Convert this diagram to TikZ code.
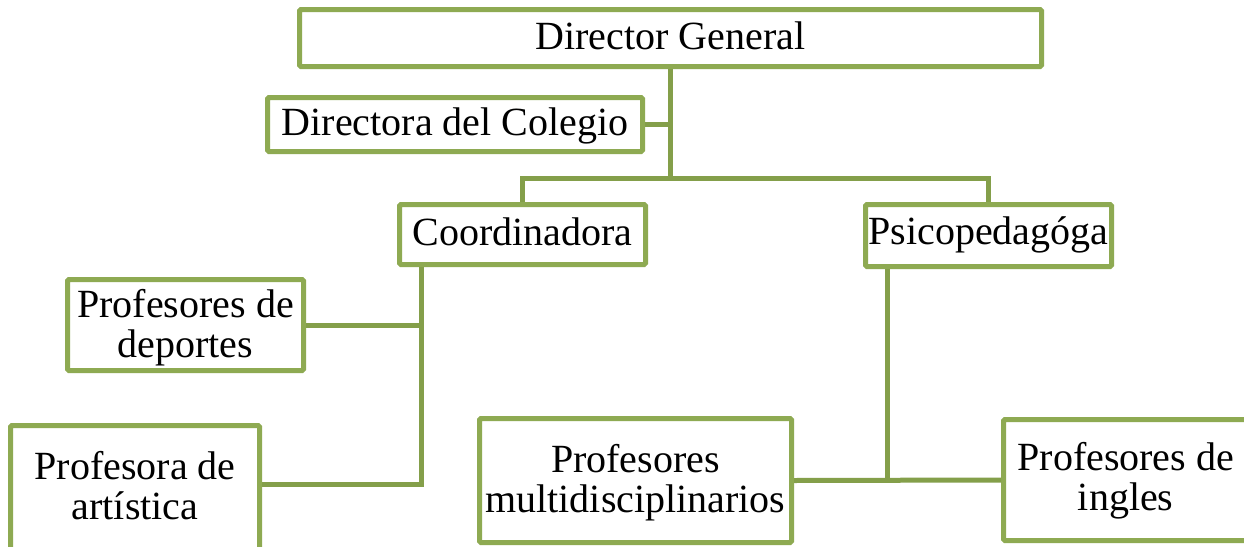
\documentclass[tikz,border=0pt]{standalone}
\usepackage{fontspec}
\setmainfont{Liberation Serif}
\definecolor{boxgreen}{HTML}{8EAA52}
\definecolor{linegreen}{HTML}{849F4A}
\begin{document}
\begin{tikzpicture}[x=1pt,y=-1pt,
  orgbox/.style={draw=boxgreen, line width=5pt, fill=white, rounded corners=1.5pt,
    inner sep=0pt, align=center, font={\fontsize{40}{40}\selectfont}},
  oneline/.style={text height=27pt, text depth=6pt},
  twoline/.style={text height=67pt, text depth=#1},
  conn/.style={draw=linegreen, line width=5pt}]
\useasboundingbox (0,0) rectangle (1244,546);
\clip (0,0) rectangle (1244,546);
\fill[white] (0,0) rectangle (1244,546);
% boxes
\node[orgbox, oneline, text depth=5pt, minimum width=742pt, minimum height=57pt] (dg) at (670.5,38) {Director General};
\node[orgbox, oneline, minimum width=375pt, minimum height=54pt] (dc) at (455,124.5) {Directora del Colegio};
\node[orgbox, oneline, minimum width=246pt, minimum height=60pt] (co) at (522.5,234.5) {Coordinadora};
\node[orgbox, oneline, text depth=9pt, minimum width=246pt, minimum height=62pt] (ps) at (988.5,235.5) {Psicopedagóga};
\node[orgbox, twoline=3pt, minimum width=236pt, minimum height=91pt] (pd) at (185.5,325) {Profesores de\\deportes};
\node[orgbox, twoline=20pt, minimum width=249pt, minimum height=140pt] (pa) at (135,495.5) {Profesora de\\artística};
\node[orgbox, twoline=4pt, minimum width=312pt, minimum height=124pt] (pm) at (635.5,480.5) {Profesores\\multidisciplinarios};
\node[orgbox, twoline=7pt, minimum width=244.5pt, minimum height=121pt] (pi) at (1125.75,480) {Profesores de\\ingles};
% helper coordinates
\coordinate (bar) at (dg.south |- 0,178);
\coordinate (cs) at ([xshift=24.5pt]co.south west);
\coordinate (pss) at ([xshift=24.5pt]ps.south west);
\coordinate (pae) at ([yshift=-61.5pt]pa.north east);
% connectors
\draw[conn] (dg.south) -- (bar);
\draw[conn] (dc.east) -- (dc.east -| dg.south);
\draw[conn] (co.north) |- (bar) -| (ps.north);
\draw[conn] (cs) |- (pae);
\draw[conn] (pd.east) -- (pd.east -| cs);
\draw[conn] (pss) -- (pss |- pm.east);
\draw[conn] (pm.east) -- (pi.west);
\end{tikzpicture}
\end{document}
